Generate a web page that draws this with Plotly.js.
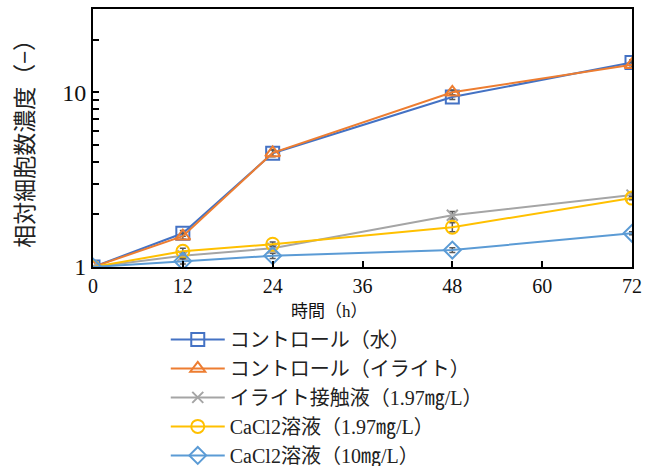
<!DOCTYPE html>
<html><head><meta charset="utf-8">
<script src="https://cdn.plot.ly/plotly-3.0.1.min.js"></script>
<style>html,body{margin:0;padding:0;background:#fff}#c{width:645px;height:466px}</style>
</head><body><div id="c"></div>
<script>
const hours = [0, 12, 24, 48, 72];
const names = ["コントロール（水）", "コントロール（イライト）", "イライト接触液（1.97㎎/L）", "CaCl2溶液（1.97㎎/L）", "CaCl2溶液（10㎎/L）"];
const ctrlWater = [1, 1.56, 4.48, 9.4, 14.8];
const ctrlIlite = [1, 1.50, 4.5, 10.0, 14.4];
const iliteLiquid = [1, 1.16, 1.28, 1.98, 2.58];
const cacl2Low = [1, 1.23, 1.35, 1.69, 2.48];
const cacl2High = [1, 1.08, 1.16, 1.25, 1.56];
const errWater = [0, 0.06, 0.2, 0.3, 0.5];
const errIlite = [0, 0.06, 0.2, 0.3, 0.5];
const errIliteLiquid = [0, 0.05, 0.04, 0.1, 0.08];
const errLow = [0, 0.05, 0.04, 0.1, 0.05];
const errHigh = [0, 0.04, 0.04, 0.04, 0.03];
const yTickVals = [1,2,3,4,5,6,7,8,9,10,20,30];
const yTickText = ["1","","","","","","","","","10","",""];
const xTitle = "時間（h）";
const yTitle = "相対細胞数濃度（−）";

const colors = ["#4472C4", "#ED7D31", "#A5A5A5", "#FFC000", "#5B9BD5"];
const symbols = ["square-open", "triangle-up-open", "x-thin-open", "circle-open", "diamond-open"];
const series = [ctrlWater, ctrlIlite, iliteLiquid, cacl2Low, cacl2High];
const errs = [errWater, errIlite, errIliteLiquid, errLow, errHigh];

const traces = series.map((s, i) => ({
  x: hours, y: s, name: names[i], type: "scatter", mode: "lines+markers",
  line: {color: colors[i], width: 2},
  marker: {symbol: symbols[i], size: i === 2 ? 11 : 13, color: colors[i], line: {color: colors[i], width: 2}},
  error_y: {type: "data", array: errs[i], visible: true, color: "#595959", thickness: 1.5, width: 3}
}));

const font = "Liberation Serif, Noto Sans CJK JP, serif";
const layout = {
  width: 645, height: 466,
  margin: {l: 93, r: 13, t: 9, b: 199, autoexpand: false},
  paper_bgcolor: "#fff", plot_bgcolor: "#fff",
  showlegend: true,
  legend: {x: 0.135, y: -0.205, xanchor: "left", yanchor: "top", orientation: "v",
    font: {family: font, size: 20, color: "#222"}, tracegroupgap: 0, itemwidth: 54,
    bgcolor: "rgba(0,0,0,0)"},
  xaxis: {range: [0, 72], tickvals: [0,12,24,36,48,60,72], ticks: "inside", ticklen: 6, tickwidth: 2,
    tickcolor: "#000", showline: true, linecolor: "#000", linewidth: 2, mirror: true, showgrid: false, zeroline: false,
    tickfont: {family: font, size: 20, color: "#111"}},
  yaxis: {type: "log", range: [0, Math.log10(30)], tickmode: "array", tickvals: yTickVals, ticktext: yTickText,
    ticks: "inside", ticklen: 6, tickwidth: 2, tickcolor: "#000", showline: true, linecolor: "#000", linewidth: 2,
    mirror: true, showgrid: false, zeroline: false,
    tickfont: {family: font, size: 24, color: "#111"},
    title: {text: yTitle, font: {family: "Noto Sans CJK JP, sans-serif", size: 23, color: "#222"}, standoff: 22}},
  annotations: [{text: xTitle, xref: "paper", yref: "paper", x: 0.438, y: -0.172, xanchor: "center", yanchor: "middle",
    showarrow: false, font: {family: font, size: 17, color: "#111"}}]
};
Plotly.newPlot("c", traces, layout, {staticPlot: true, displayModeBar: false});
</script></body></html>
